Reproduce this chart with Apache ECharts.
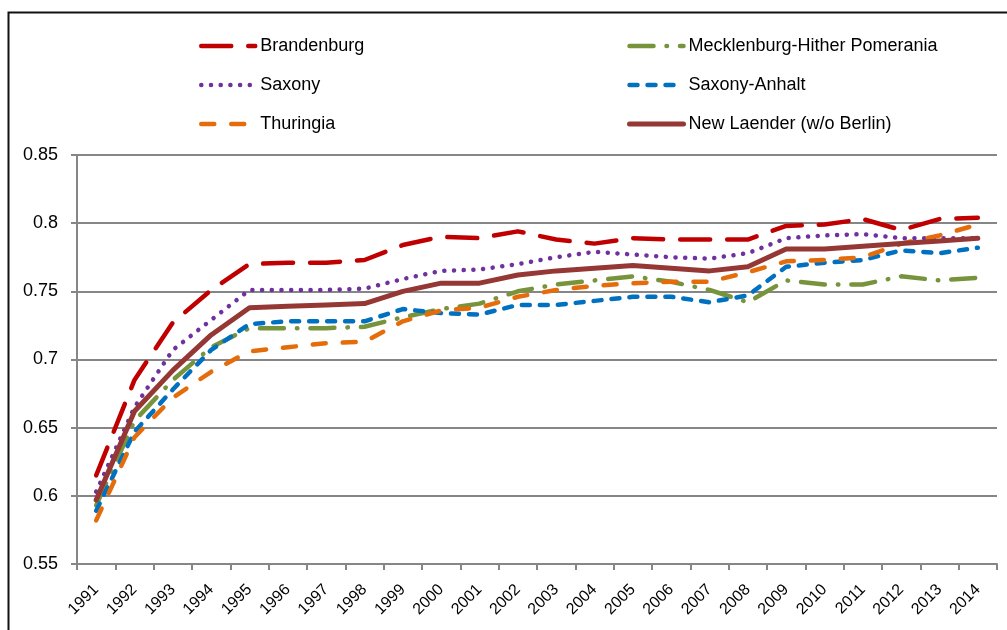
<!DOCTYPE html>
<html>
<head>
<meta charset="utf-8">
<script src="https://cdn.jsdelivr.net/npm/echarts@6/dist/echarts.min.js"></script>
<style>
  html, body { margin: 0; padding: 0; background: #fff; }
  #main { width: 1007px; height: 630px; }
</style>
</head>
<body>
<div id="main"></div>
<script type="text/javascript">
	// 年份
	var years = ['1991','1992','1993','1994','1995','1996','1997','1998','1999','2000','2001','2002',
		'2003','2004','2005','2006','2007','2008','2009','2010','2011','2012','2013','2014'];

	// 各州数据
	var brandenburg = [0.615,0.685,0.727,0.751,0.770,0.771,0.771,0.773,0.784,0.790,0.789,0.794,
		0.788,0.785,0.789,0.788,0.788,0.788,0.798,0.799,0.803,0.795,0.803,0.804];
	var mecklenburg = [0.593,0.655,0.685,0.709,0.723,0.723,0.723,0.724,0.731,0.737,0.741,0.750,
		0.755,0.758,0.761,0.757,0.751,0.742,0.758,0.755,0.755,0.761,0.758,0.760];
	var saxony = [0.603,0.665,0.707,0.729,0.751,0.751,0.751,0.752,0.759,0.765,0.766,0.770,
		0.775,0.779,0.777,0.775,0.774,0.778,0.789,0.791,0.792,0.789,0.789,0.789];
	var saxonyAnhalt = [0.589,0.647,0.678,0.707,0.726,0.728,0.728,0.728,0.737,0.734,0.733,0.740,
		0.740,0.743,0.746,0.746,0.742,0.747,0.768,0.771,0.773,0.780,0.778,0.782];
	var thuringia = [0.582,0.643,0.672,0.691,0.706,0.709,0.712,0.713,0.728,0.736,0.738,0.746,
		0.751,0.754,0.756,0.757,0.757,0.764,0.772,0.773,0.775,0.785,0.791,0.799];
	var newLaender = [0.597,0.662,0.692,0.718,0.738,0.739,0.740,0.741,0.750,0.756,0.756,0.762,
		0.765,0.767,0.769,0.767,0.765,0.768,0.781,0.781,0.783,0.785,0.787,0.789];

	// y 轴刻度
	var yMin = 0.55, yMax = 0.85, yStep = 0.05;

	var myChart = echarts.init(document.getElementById('main'));

	function line(name, data, color, width, dash) {
		return {
			name: name,
			type: 'line',
			data: data,
			symbol: 'none',
			smooth: false,
			z: 3,
			lineStyle: {
				color: color,
				width: width,
				type: dash,
				cap: 'round',
				join: 'round'
			},
			itemStyle: { color: color }
		};
	}

	var font = 'Liberation Sans, Arial, sans-serif';
	var legendText = { fontFamily: font, fontSize: 18, color: '#000' };

	function legendBox(left, names) {
		return {
			orient: 'vertical',
			left: left,
			top: 37,
			padding: 0,
			itemWidth: 54,
			itemHeight: 20,
			itemGap: 21,
			textStyle: legendText,
			itemStyle: { opacity: 0 },
			lineStyle: { width: 'inherit' },
			data: names
		};
	}

	var option = {
		animation: false,
		backgroundColor: '#fff',
		graphic: [{
			type: 'rect',
			shape: { x: 8.5, y: 12.5, width: 1100, height: 700 },
			style: { fill: 'none', stroke: '#111', lineWidth: 2 },
			z: -1
		}],
		legend: [
			legendBox(199, ['Brandenburg', 'Saxony', 'Thuringia']),
			legendBox(627, ['Mecklenburg-Hither Pomerania', 'Saxony-Anhalt', 'New Laender (w/o Berlin)'])
		],
		grid: { left: 77, right: 10, top: 155, bottom: 66, containLabel: false },
		xAxis: {
			type: 'category',
			data: years,
			boundaryGap: true,
			axisLine: { lineStyle: { color: '#868686', width: 2 } },
			axisTick: { show: true, length: 6, interval: 0, lineStyle: { color: '#868686', width: 2 } },
			axisLabel: {
				interval: 0,
				rotate: 45,
				margin: 23,
				fontFamily: font,
				fontSize: 16,
				color: '#000'
			}
		},
		yAxis: {
			type: 'value',
			min: yMin,
			max: yMax,
			interval: yStep,
			axisLine: { show: true, lineStyle: { color: '#868686', width: 2 } },
			axisTick: { show: true, length: 6, lineStyle: { color: '#868686', width: 2 } },
			splitLine: { show: true, lineStyle: { color: '#868686', width: 2 } },
			axisLabel: {
				margin: 19,
				fontFamily: font,
				fontSize: 18,
				color: '#000',
				formatter: function (v) { return String(parseFloat(v.toFixed(2))); }
			}
		},
		series: [
			line('Brandenburg', brandenburg, '#C00000', 4.5, [30, 17]),
			line('Mecklenburg-Hither Pomerania', mecklenburg, '#77933C', 4.5, [24, 13, 0.5, 13]),
			line('Saxony', saxony, '#7030A0', 4.5, [0.1, 9.6]),
			line('Saxony-Anhalt', saxonyAnhalt, '#0070C0', 4.5, [8, 10]),
			line('Thuringia', thuringia, '#E46C0A', 4.5, [13, 17]),
			line('New Laender (w/o Berlin)', newLaender, '#953735', 5, 'solid')
		]
	};

	myChart.setOption(option);
</script>
</body>
</html>
